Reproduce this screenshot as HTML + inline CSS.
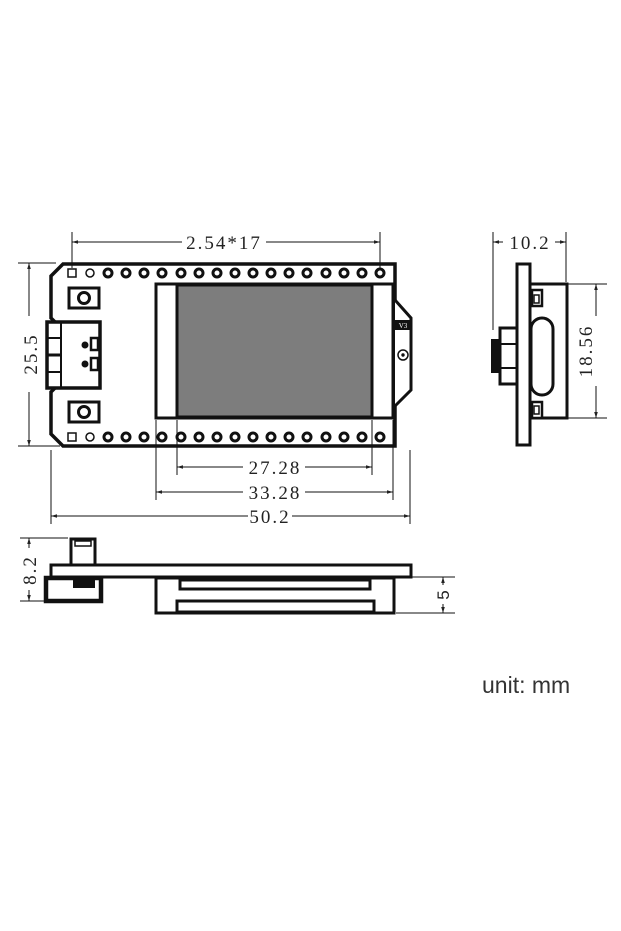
<!DOCTYPE html>
<html><head><meta charset="utf-8"><style>
html,body{margin:0;padding:0;background:#fff;}
svg{display:block;}
text{font-family:"Liberation Serif",serif;fill:#222;}
.d{letter-spacing:2px;font-size:19px;}
</style></head><body>
<svg width="621" height="931" viewBox="0 0 621 931" xmlns="http://www.w3.org/2000/svg">
<defs>
<marker id="a" viewBox="0 0 10 10" refX="10" refY="5" markerWidth="8" markerHeight="6" orient="auto-start-reverse"><path d="M0,2 L10,5 L0,8 z" fill="#222"/></marker>
</defs>
<g stroke="#111" fill="none">
<path d="M63,264 L395,264 L395,446 L63,446 L51,434 L51,392 L55,388 L55,322 L51,318 L51,276 Z" stroke-width="3.5" fill="#fff"/>
<rect x="156" y="284" width="237" height="134" stroke-width="3" fill="#fff"/>
<rect x="177" y="285" width="195" height="132" fill="#7d7d7d" stroke-width="3"/>
<path d="M395,300 L411,318 L411,390 L395,406" stroke-width="3" fill="#fff"/>
<rect x="395" y="320" width="16" height="10" fill="#111" stroke="none"/>
<circle cx="403" cy="355" r="5" stroke-width="1.5"/>
<circle cx="403" cy="355" r="1.2" fill="#111"/>
<rect x="69" y="288" width="30" height="20" stroke-width="3"/>
<circle cx="84" cy="298" r="5.5" stroke-width="3"/>
<rect x="69" y="402" width="30" height="20" stroke-width="3"/>
<circle cx="84" cy="412" r="5.5" stroke-width="3"/>
<rect x="47" y="322" width="53" height="66" stroke-width="3.5" fill="#fff"/>
<line x1="47" y1="338" x2="61" y2="338" stroke-width="2"/>
<line x1="47" y1="355" x2="61" y2="355" stroke-width="3"/>
<line x1="47" y1="372" x2="61" y2="372" stroke-width="2"/>
<line x1="61" y1="322" x2="61" y2="388" stroke-width="2"/>
<circle cx="85" cy="345" r="3" fill="#111"/>
<circle cx="85" cy="364" r="3" fill="#111"/>
<rect x="91" y="338" width="7" height="12" stroke-width="2.5"/>
<rect x="91" y="358" width="7" height="12" stroke-width="2.5"/>
<g stroke-width="1">
<line x1="72" y1="232" x2="72" y2="268"/><line x1="380" y1="232" x2="380" y2="268"/>
<line x1="72" y1="242" x2="182" y2="242" marker-start="url(#a)"/><line x1="266" y1="242" x2="380" y2="242" marker-end="url(#a)"/>
<line x1="18" y1="263" x2="56" y2="263"/><line x1="18" y1="446" x2="60" y2="446"/>
<line x1="29" y1="263" x2="29" y2="316" marker-start="url(#a)"/><line x1="29" y1="392" x2="29" y2="446" marker-end="url(#a)"/>
<line x1="177" y1="420" x2="177" y2="475"/><line x1="372" y1="420" x2="372" y2="475"/>
<line x1="177" y1="467" x2="243" y2="467" marker-start="url(#a)"/><line x1="305" y1="467" x2="372" y2="467" marker-end="url(#a)"/>
<line x1="156" y1="420" x2="156" y2="500"/><line x1="393" y1="420" x2="393" y2="500"/>
<line x1="156" y1="492" x2="243" y2="492" marker-start="url(#a)"/><line x1="305" y1="492" x2="393" y2="492" marker-end="url(#a)"/>
<line x1="51" y1="450" x2="51" y2="524"/><line x1="410" y1="450" x2="410" y2="524"/>
<line x1="51" y1="516" x2="248" y2="516" marker-start="url(#a)"/><line x1="292" y1="516" x2="410" y2="516" marker-end="url(#a)"/>
</g>
</g>
<g stroke="#111" fill="none">
<rect x="68" y="269" width="8" height="8" stroke-width="1.5"/>
<rect x="68" y="433" width="8" height="8" stroke-width="1.5"/>
<circle cx="90" cy="273" r="4" stroke-width="1.5"/><circle cx="90" cy="437" r="4" stroke-width="1.5"/>
<g stroke-width="3">
<circle cx="108" cy="273" r="4"/><circle cx="126" cy="273" r="4"/><circle cx="144" cy="273" r="4"/><circle cx="162" cy="273" r="4"/><circle cx="181" cy="273" r="4"/><circle cx="199" cy="273" r="4"/><circle cx="217" cy="273" r="4"/><circle cx="235" cy="273" r="4"/><circle cx="253" cy="273" r="4"/><circle cx="271" cy="273" r="4"/><circle cx="289" cy="273" r="4"/><circle cx="307" cy="273" r="4"/><circle cx="326" cy="273" r="4"/><circle cx="344" cy="273" r="4"/><circle cx="362" cy="273" r="4"/><circle cx="380" cy="273" r="4"/>
<circle cx="108" cy="437" r="4"/><circle cx="126" cy="437" r="4"/><circle cx="144" cy="437" r="4"/><circle cx="162" cy="437" r="4"/><circle cx="181" cy="437" r="4"/><circle cx="199" cy="437" r="4"/><circle cx="217" cy="437" r="4"/><circle cx="235" cy="437" r="4"/><circle cx="253" cy="437" r="4"/><circle cx="271" cy="437" r="4"/><circle cx="289" cy="437" r="4"/><circle cx="307" cy="437" r="4"/><circle cx="326" cy="437" r="4"/><circle cx="344" cy="437" r="4"/><circle cx="362" cy="437" r="4"/><circle cx="380" cy="437" r="4"/>
</g>
</g>
<text class="d" x="224" y="249" text-anchor="middle">2.54*17</text>
<text class="d" x="275" y="474" text-anchor="middle">27.28</text>
<text class="d" x="275" y="499" text-anchor="middle">33.28</text>
<text class="d" x="270" y="523" text-anchor="middle">50.2</text>
<text class="d" transform="translate(37,354) rotate(-90)" text-anchor="middle">25.5</text>
<text x="403" y="328" font-size="7" style="fill:#fff" text-anchor="middle">V3</text>

<g stroke="#111" fill="#fff">
<rect x="71" y="539" width="24" height="26" stroke-width="3"/>
<rect x="75" y="541" width="16" height="5" stroke-width="1.5"/>
<rect x="156" y="578" width="238" height="35" stroke-width="3"/>
<rect x="180" y="580" width="190" height="9" stroke-width="3"/>
<rect x="177" y="601" width="197" height="11" stroke-width="3"/>
<rect x="51" y="565" width="360" height="12" stroke-width="3"/>
<rect x="46" y="578" width="55" height="23" stroke-width="4.5"/>
<rect x="74" y="581" width="20" height="6" stroke-width="2" fill="#111"/>
<g stroke-width="1" fill="none">
<line x1="20" y1="538" x2="68" y2="538"/><line x1="20" y1="601" x2="46" y2="601"/>
<line x1="29" y1="538" x2="29" y2="548" marker-start="url(#a)"/><line x1="29" y1="590" x2="29" y2="601" marker-end="url(#a)"/>
<line x1="412" y1="577" x2="455" y2="577"/><line x1="396" y1="613" x2="455" y2="613"/>
<line x1="443" y1="577" x2="443" y2="585" marker-start="url(#a)"/><line x1="443" y1="604" x2="443" y2="613" marker-end="url(#a)"/>
</g>
</g>
<text class="d" transform="translate(36,570) rotate(-90)" text-anchor="middle">8.2</text>
<text transform="translate(449,595) rotate(-90)" font-size="17" text-anchor="middle" style="font-family:'Liberation Sans',sans-serif">5</text>

<g stroke="#111" fill="#fff">
<rect x="530" y="284" width="37" height="134" stroke-width="3"/>
<rect x="517" y="264" width="13" height="181" stroke-width="3"/>
<rect x="500" y="328" width="17" height="56" stroke-width="3"/>
<line x1="500" y1="344" x2="517" y2="344" stroke-width="2"/>
<line x1="500" y1="368" x2="517" y2="368" stroke-width="2"/>
<rect x="491" y="339" width="9" height="34" fill="#111" stroke="none"/>
<rect x="531" y="318" width="22" height="77" rx="11" stroke-width="3"/>
<rect x="532" y="290" width="10" height="16" stroke-width="2.5"/>
<rect x="534" y="295" width="5" height="8" stroke-width="1.5"/>
<rect x="532" y="402" width="10" height="16" stroke-width="2.5"/>
<rect x="534" y="406" width="5" height="8" stroke-width="1.5"/>
<g stroke-width="1" fill="none">
<line x1="493" y1="232" x2="493" y2="330"/><line x1="566" y1="232" x2="566" y2="282"/>
<line x1="493" y1="242" x2="503" y2="242" marker-start="url(#a)"/><line x1="555" y1="242" x2="566" y2="242" marker-end="url(#a)"/>
<line x1="568" y1="284" x2="607" y2="284"/><line x1="568" y1="418" x2="607" y2="418"/>
<line x1="596" y1="284" x2="596" y2="316" marker-start="url(#a)"/><line x1="596" y1="386" x2="596" y2="418" marker-end="url(#a)"/>
</g>
</g>
<text class="d" x="530" y="249" text-anchor="middle">10.2</text>
<text class="d" transform="translate(592,351) rotate(-90)" text-anchor="middle">18.56</text>

<text x="482" y="693" font-size="23" style="font-family:'Liberation Sans',sans-serif;fill:#333">unit: mm</text>
</svg>
</body></html>
